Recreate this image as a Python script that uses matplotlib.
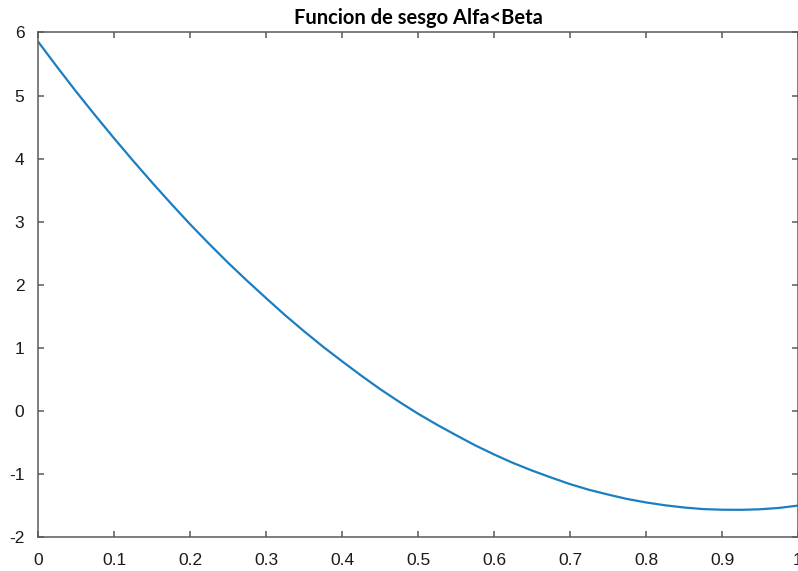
import matplotlib
matplotlib.use("Agg")
import matplotlib.pyplot as plt

plt.rcParams["axes.unicode_minus"] = False  # guion simple como en MATLAB

# valores (paso 0.025)
x_vals = [0.0, 0.025, 0.05, 0.075, 0.1, 0.125, 0.15, 0.175, 0.2, 0.225,
          0.25, 0.275, 0.3, 0.325, 0.35, 0.375, 0.4, 0.425, 0.45, 0.475,
          0.5, 0.525, 0.55, 0.575, 0.6, 0.625, 0.65, 0.675, 0.7, 0.725,
          0.75, 0.775, 0.8, 0.825, 0.85, 0.875, 0.9, 0.925, 0.95, 0.975, 1.0]
sesgo = [5.85, 5.45, 5.06, 4.685, 4.32, 3.965, 3.62, 3.285, 2.96, 2.65,
         2.35, 2.065, 1.79, 1.52, 1.265, 1.02, 0.79, 0.565, 0.35, 0.15,
         -0.04, -0.215, -0.38, -0.54, -0.685, -0.82, -0.94, -1.05, -1.155, -1.245,
         -1.32, -1.39, -1.445, -1.49, -1.525, -1.55, -1.56, -1.562, -1.553, -1.532, -1.495]

x_ticks = [0, 0.1, 0.2, 0.3, 0.4, 0.5, 0.6, 0.7, 0.8, 0.9, 1]
x_labels = ["0", "0.1", "0.2", "0.3", "0.4", "0.5", "0.6", "0.7", "0.8", "0.9", "1"]
y_ticks = [-2, -1, 0, 1, 2, 3, 4, 5, 6]

fig = plt.figure(figsize=(7.98, 5.71), dpi=100)
ax = fig.add_axes([0.048, 0.0587, 0.952, 0.8844])

ax.plot(x_vals, sesgo, color="#1a7fc1", linewidth=1.6)

ax.set_xlim(0, 1)
ax.set_ylim(-2, 6)
ax.set_xticks(x_ticks)
ax.set_xticklabels(x_labels)
ax.set_yticks(y_ticks)

for s in ax.spines.values():
    s.set_color("#5a5a5a")
    s.set_linewidth(1.1)

ax.tick_params(direction="in", length=4, width=1.1, color="#5a5a5a",
               top=True, right=True, labelsize=12.5, labelcolor="#1a1a1a")
ax.tick_params(axis="x", pad=11)
ax.tick_params(axis="y", pad=10)
for lab in ax.get_xticklabels() + ax.get_yticklabels():
    lab.set_family("Liberation Sans")

ax.set_title("Funcion de sesgo Alfa<Beta", fontsize=14.5, fontweight="bold",
             family="Lato", pad=6)

fig.savefig("out.png", dpi=100)
